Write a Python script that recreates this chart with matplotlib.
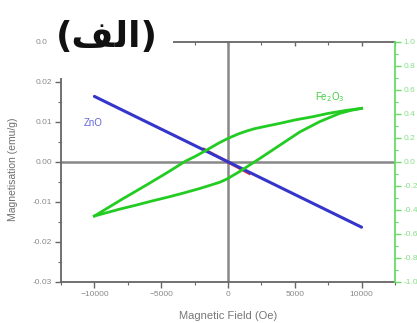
import matplotlib
matplotlib.use("Agg")
import matplotlib.pyplot as plt
from matplotlib.ticker import MultipleLocator, FormatStrFormatter, NullFormatter
from matplotlib.patches import Rectangle

# ---- data ----
zno_field = [-10000, 10000]
zno_mag = [0.0164, -0.0163]

red_field = [-1800, 1600]
red_mag = [0.0032, -0.0029]

fe_up_field = [10000, 8850, 7500, 6370, 5000, 3880, 2800, 2000, 1390, 800, 0, -720,
               -1590, -2400, -3210, -4500, -6000, -8000, -10000]
fe_up_val = [0.447, 0.43, 0.405, 0.378, 0.35, 0.322, 0.297, 0.278, 0.258, 0.235, 0.197,
             0.156, 0.10, 0.05, 0.005, -0.085, -0.185, -0.315, -0.45]
fe_low_field = [-10000, -9000, -8180, -6900, -5690, -4400, -3210, -2090, -1220, -600,
                -100, 895, 1390, 2390, 3880, 5370, 6860, 8350, 9200, 10000]
fe_low_val = [-0.45, -0.42, -0.395, -0.36, -0.325, -0.29, -0.255, -0.22, -0.19, -0.168,
              -0.143, -0.078, -0.042, 0.03, 0.14, 0.25, 0.336, 0.405, 0.43, 0.447]

x_ticks = [-10000, -5000, 0, 5000, 10000]
title_text = "(\uFED2\uFEDF\u0627)"  # visual form of "(الف)"

plt.rcParams['font.family'] = ['Liberation Sans', 'DejaVu Sans']

fig = plt.figure(figsize=(4.17, 3.23), dpi=100)
ax = fig.add_axes([61/417, 1-282/323, (395-61)/417, (282-42)/323])
ax2 = ax.twinx()

gray = '#666666'
lgray = '#8a8a8a'
green = '#22cc22'
lgreen = '#66dd66'

ax.axhline(0, color='#888888', lw=1.8, zorder=1)
ax.axvline(0, color='#888888', lw=1.8, zorder=1)

ax.plot(red_field, red_mag, color='#e03030', lw=2.0, zorder=2)
ax.plot(zno_field, zno_mag, color='#3535cc', lw=2.2, zorder=3, solid_capstyle='round')
ax2.plot(fe_up_field, fe_up_val, color=green, lw=2.0, zorder=3, solid_joinstyle='round')
ax2.plot(fe_low_field, fe_low_val, color=green, lw=2.0, zorder=3, solid_joinstyle='round')

ax.set_xlim(-12500, 12500)
ax.set_ylim(-0.03, 0.03)
ax2.set_ylim(-1.0, 1.0)

ax.set_xticks(x_ticks)
ax.xaxis.set_minor_locator(MultipleLocator(2500))
ax.yaxis.set_major_locator(MultipleLocator(0.01))
ax.yaxis.set_minor_locator(MultipleLocator(0.005))
ax.yaxis.set_major_formatter(FormatStrFormatter('%.2f'))
ax2.yaxis.set_major_locator(MultipleLocator(0.2))
ax2.yaxis.set_minor_locator(MultipleLocator(0.1))
ax2.yaxis.set_major_formatter(FormatStrFormatter('%.1f'))

for s in ['left', 'bottom', 'top']:
    ax.spines[s].set_color(gray)
    ax.spines[s].set_linewidth(1.3)
ax.spines['right'].set_visible(False)
for s in ['left', 'bottom', 'top']:
    ax2.spines[s].set_visible(False)
ax2.spines['right'].set_color(lgreen)
ax2.spines['right'].set_linewidth(1.3)

ax.tick_params(axis='both', which='major', direction='out', length=4, width=1.0,
               color=gray, labelsize=6, labelcolor=lgray, pad=2.5)
ax.tick_params(axis='both', which='minor', direction='out', length=2.2, width=0.8, color=gray)

top = ax.secondary_xaxis('top')
top.set_xticks(x_ticks)
top.xaxis.set_minor_locator(MultipleLocator(2500))
top.xaxis.set_major_formatter(NullFormatter())
top.tick_params(which='major', direction='in', length=3, width=1.0, color=gray)
top.tick_params(which='minor', direction='in', length=2, width=0.8, color=gray)
top.spines['top'].set_visible(False)

ax2.tick_params(axis='y', which='major', direction='out', length=4, width=1.0,
                color=lgreen, labelsize=6, labelcolor='#88dd88', pad=2)
ax2.tick_params(axis='y', which='minor', direction='out', length=2.2, width=0.8, color=lgreen)

ax.set_xlabel('Magnetic Field (Oe)', fontsize=8, color='#777777')
ax.xaxis.set_label_coords(0.5, -0.12)
ax.set_ylabel('Magnetisation (emu/g)', fontsize=7.5, color='#6f6f6f')
ax.yaxis.set_label_coords(-0.13, 0.47)

ax.text(-10820, 0.00975, 'ZnO', color='#6666dd', fontsize=7, va='center')
ax2.text(6490, 0.54, 'Fe$_2$O$_3$', color='#44cc44', fontsize=7, va='center')

# white cover behind title
fig.patches.append(Rectangle((47/417, 1-78/323), (173-47)/417, 78/323,
                             transform=fig.transFigure, facecolor='white',
                             edgecolor='none', zorder=10))
fig.text(107/417, 1-37/323, title_text, fontsize=26, fontweight='bold',
         family=['DejaVu Sans'], ha='center', va='center', zorder=11, color='#111111')

fig.savefig('out.png', dpi=100)
